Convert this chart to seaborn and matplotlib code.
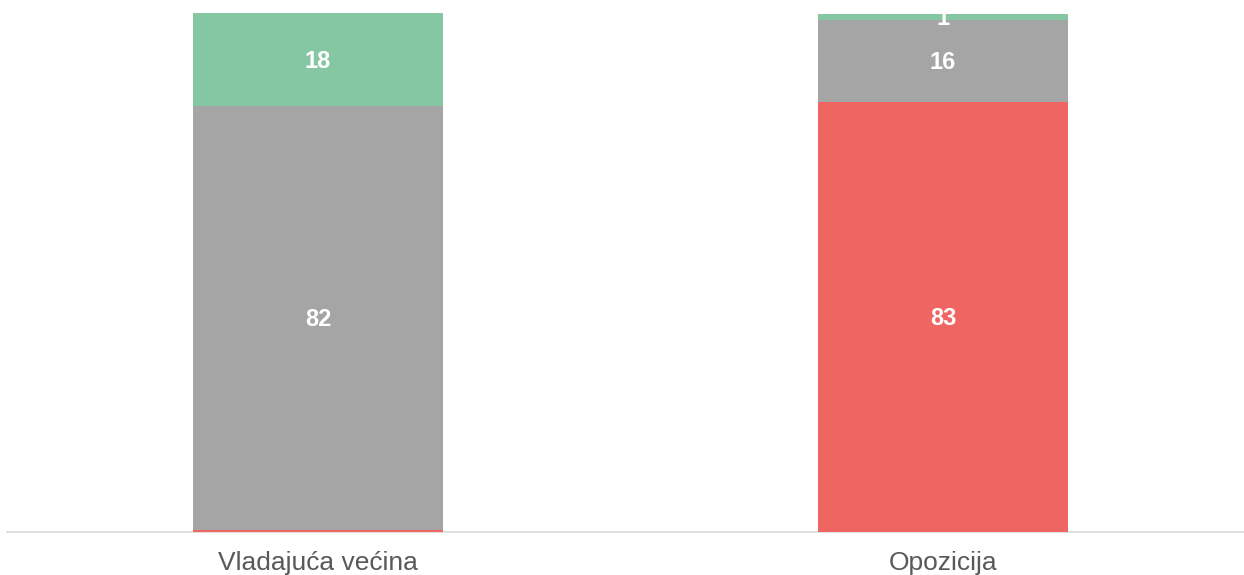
import matplotlib.pyplot as plt
import seaborn as sns
import pandas as pd
import numpy as np

# --- data ---
categories = ["Vladajuća većina", "Opozicija"]
red_vals = [0.3, 83]
gray_vals = [82, 16]
green_vals = [18, 1]

colors = {"red": "#EF6561", "gray": "#A5A5A5", "green": "#85C7A3"}

sns.set_theme(style="white")
plt.rcParams["font.family"] = ["Liberation Sans", "DejaVu Sans"]

fig = plt.figure(figsize=(12.44, 5.75), dpi=100)
ax = fig.add_axes([0.0056, 0.0748, 0.9944, 0.9252])

# cumulative tops, drawn largest first so lower layers overlap
red = np.array(red_vals)
gray = np.array(gray_vals)
green = np.array(green_vals)
stacks = [
    ("green", red + gray + green),
    ("gray", red + gray),
    ("red", red),
]
for name, tops in stacks:
    df = pd.DataFrame({"cat": categories, "val": tops})
    sns.barplot(data=df, x="cat", y="val", color=colors[name],
                saturation=1, width=0.4, ax=ax, errorbar=None,
                linewidth=0, edgecolor="none")

# value labels in the middle of each segment
bottoms = np.zeros(len(categories))
for vals in [red_vals, gray_vals, green_vals]:
    for i, v in enumerate(vals):
        if v >= 0.5:
            ax.text(i, bottoms[i] + v / 2 - 0.3, f"{v:g}", ha="center", va="center",
                    color="white", fontsize=17, fontweight="bold")
    bottoms += np.array(vals)

ax.set_xlim(-0.4976, 1.4816)
ax.set_ylim(0, 102.8)
ax.set_xlabel("")
ax.set_ylabel("")
ax.set_yticks([])
for side in ["top", "left", "right"]:
    ax.spines[side].set_visible(False)
ax.spines["bottom"].set_color("#D9D9D9")
ax.spines["bottom"].set_linewidth(1.2)
ax.spines["bottom"].set_zorder(0.5)
ax.tick_params(axis="x", length=0, pad=14, labelsize=19, labelcolor="#595959")

fig.savefig("out.png", dpi=100)
